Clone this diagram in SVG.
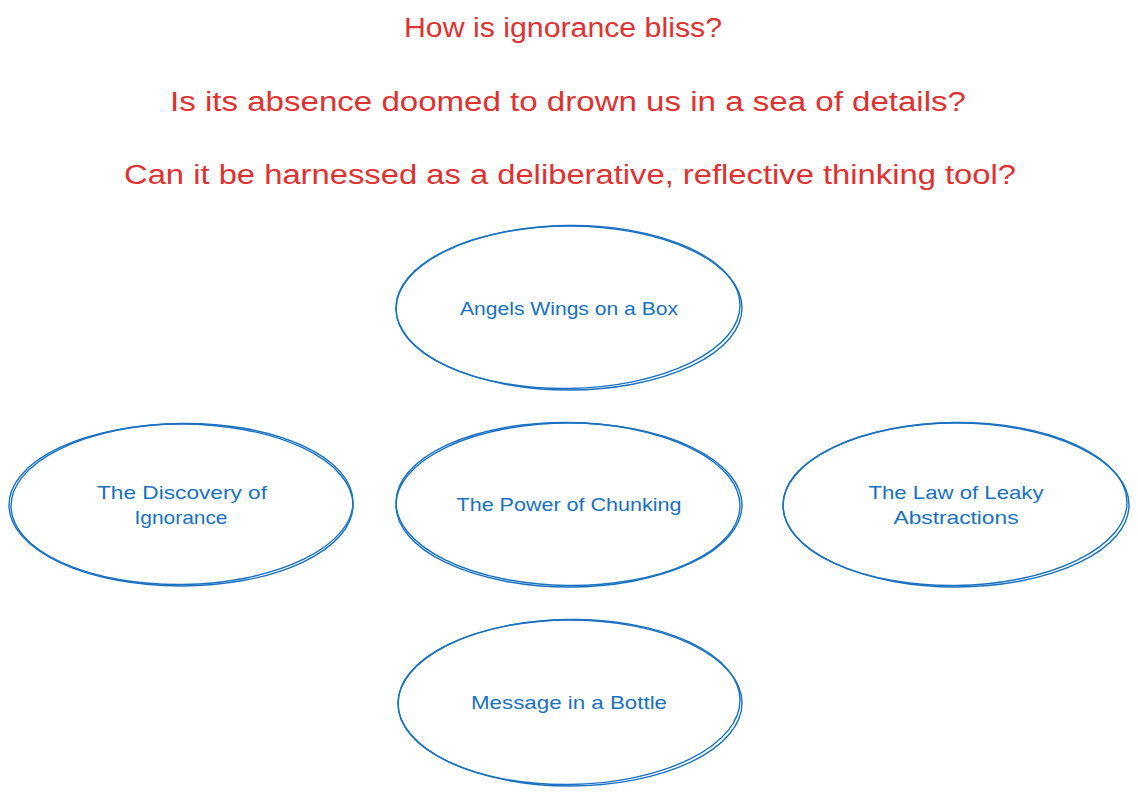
<svg xmlns="http://www.w3.org/2000/svg" width="1138" height="795" viewBox="0 0 1138 795">
<style>
.q{font-family:"Liberation Sans","DejaVu Sans",sans-serif;font-size:27px;fill:#e03131;text-anchor:middle}
.lbl{font-family:"Liberation Sans","DejaVu Sans",sans-serif;font-size:19px;fill:#1971c2;text-anchor:middle}
.sk{fill:none;stroke:#1971c2;stroke-width:1.4}
</style>
<rect width="1138" height="795" fill="#ffffff"/>
<g id="questions">
<text class="q" x="563" y="37" textLength="318" lengthAdjust="spacingAndGlyphs">How is ignorance bliss?</text>
<text class="q" x="568" y="111" textLength="796" lengthAdjust="spacingAndGlyphs">Is its absence doomed to drown us in a sea of details?</text>
<text class="q" x="570" y="184" textLength="892" lengthAdjust="spacingAndGlyphs">Can it be harnessed as a deliberative, reflective thinking tool?</text>
</g>
<g id="node-angels">
<ellipse class="sk" cx="569" cy="308" rx="173" ry="82"/>
<ellipse class="sk" cx="568" cy="307" rx="172" ry="81.5" transform="rotate(-0.8 568 307)"/>
<text class="lbl" x="569" y="315" textLength="218" lengthAdjust="spacingAndGlyphs">Angels Wings on a Box</text>
</g>
<g id="node-discovery">
<ellipse class="sk" cx="181" cy="505" rx="172" ry="81"/>
<ellipse class="sk" cx="182" cy="504" rx="171" ry="80.5" transform="rotate(-0.8 182 504)"/>
<text class="lbl" x="182" y="499" textLength="170" lengthAdjust="spacingAndGlyphs">The Discovery of</text>
<text class="lbl" x="181" y="524" textLength="93" lengthAdjust="spacingAndGlyphs">Ignorance</text>
</g>
<g id="node-chunking">
<ellipse class="sk" cx="569" cy="505" rx="173" ry="82"/>
<ellipse class="sk" cx="568" cy="504" rx="172" ry="81.5" transform="rotate(0.7 568 504)"/>
<text class="lbl" x="569" y="511" textLength="225" lengthAdjust="spacingAndGlyphs">The Power of Chunking</text>
</g>
<g id="node-leaky">
<ellipse class="sk" cx="956" cy="505" rx="173" ry="82"/>
<ellipse class="sk" cx="955" cy="504" rx="172" ry="81.5" transform="rotate(-0.7 955 504)"/>
<text class="lbl" x="956" y="499" textLength="175" lengthAdjust="spacingAndGlyphs">The Law of Leaky</text>
<text class="lbl" x="956" y="524" textLength="125" lengthAdjust="spacingAndGlyphs">Abstractions</text>
</g>
<g id="node-message">
<ellipse class="sk" cx="570" cy="703" rx="172" ry="83"/>
<ellipse class="sk" cx="569" cy="702" rx="171" ry="82.5" transform="rotate(-0.8 569 702)"/>
<text class="lbl" x="569" y="709" textLength="196" lengthAdjust="spacingAndGlyphs">Message in a Bottle</text>
</g>
<g id="connectors"></g>
</svg>
